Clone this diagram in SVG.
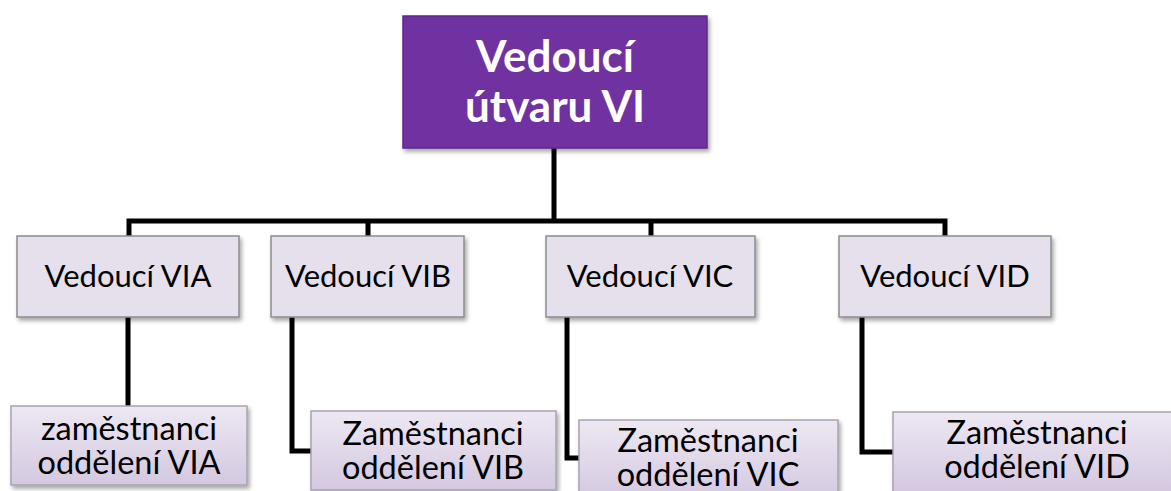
<svg xmlns="http://www.w3.org/2000/svg" width="1171" height="491" viewBox="0 0 1171 491">
<defs>
<filter id="sh" x="-10%" y="-10%" width="120%" height="130%">
<feDropShadow dx="2" dy="3" stdDeviation="2" flood-color="#000" flood-opacity="0.35"/>
</filter>
<linearGradient id="cg" x1="0" y1="0" x2="0" y2="1">
<stop offset="0" stop-color="#ede8f3"/>
<stop offset="1" stop-color="#d4c8e0"/>
</linearGradient>
</defs>
<style>
.top{fill:#7030a0;stroke:#5e2a88;stroke-width:1.5;filter:url(#sh)}
.l1{fill:#e6e0ec;stroke:#8c8c8c;stroke-width:1.5;filter:url(#sh)}
.l2{fill:url(#cg);stroke:#a9a3b0;stroke-width:1.5;filter:url(#sh)}
.tt{font-family:Lato,"Open Sans",sans-serif;font-weight:bold;font-size:44px;fill:#fff;text-anchor:middle}
.t1{font-family:Lato,"Open Sans",sans-serif;font-size:31px;fill:#000;text-anchor:middle}
.t2{font-family:Lato,"Open Sans",sans-serif;font-size:32.5px;fill:#000;text-anchor:middle}
.cn{fill:none;stroke:#000;stroke-width:5}
</style>
<rect width="1171" height="491" fill="#fff"/>
<g id="connectors">
<path class="cn" d="M554,148 V221"/>
<path class="cn" d="M129,236 V221 H945 V236"/>
<path class="cn" d="M368,221 V236"/>
<path class="cn" d="M651,221 V236"/>
<path class="cn" d="M128,317 V406"/>
<path class="cn" d="M292,317 V451 H311"/>
<path class="cn" d="M567,317 V458 H579"/>
<path class="cn" d="M862,317 V452 H893"/>
</g>
<g id="node-top">
<rect class="top" x="403" y="16" width="304" height="132"/>
<text class="tt" x="555" y="72">Vedoucí</text>
<text class="tt" x="555" y="122">útvaru VI</text>
</g>
<g id="node-via">
<rect class="l1" x="17" y="236" width="222" height="81"/>
<text class="t1" x="128" y="287">Vedoucí VIA</text>
</g>
<g id="node-vib">
<rect class="l1" x="271" y="236" width="193" height="81"/>
<text class="t1" x="368" y="287">Vedoucí VIB</text>
</g>
<g id="node-vic">
<rect class="l1" x="546" y="236" width="209" height="81"/>
<text class="t1" x="650" y="287">Vedoucí VIC</text>
</g>
<g id="node-vid">
<rect class="l1" x="839" y="236" width="212" height="81"/>
<text class="t1" x="945" y="287">Vedoucí VID</text>
</g>
<g id="node-zam-via">
<rect class="l2" x="11" y="406" width="236" height="79"/>
<text class="t2" x="129" y="440">zaměstnanci</text>
<text class="t2" x="129" y="474">oddělení VIA</text>
</g>
<g id="node-zam-vib">
<rect class="l2" x="311" y="411" width="245" height="79"/>
<text class="t2" x="433" y="445">Zaměstnanci</text>
<text class="t2" x="433" y="479">oddělení VIB</text>
</g>
<g id="node-zam-vic">
<rect class="l2" x="579" y="420" width="259" height="80"/>
<text class="t2" x="708" y="452">Zaměstnanci</text>
<text class="t2" x="708" y="486">oddělení VIC</text>
</g>
<g id="node-zam-vid">
<rect class="l2" x="893" y="412" width="290" height="80"/>
<text class="t2" x="1037" y="444">Zaměstnanci</text>
<text class="t2" x="1037" y="478">oddělení VID</text>
</g>
</svg>
